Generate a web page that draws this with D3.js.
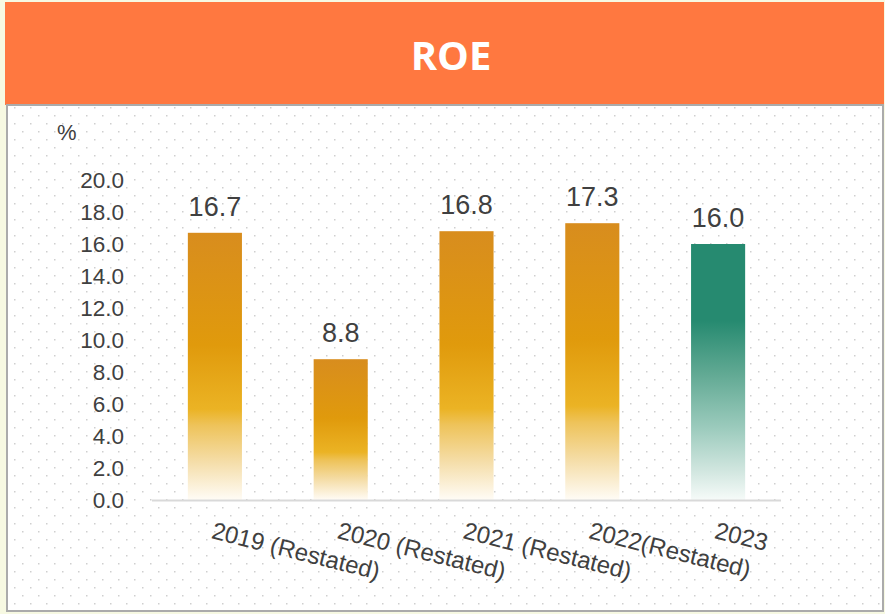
<!DOCTYPE html>
<html>
<head>
<meta charset="utf-8">
<script src="https://cdn.jsdelivr.net/npm/d3@7"></script>
<style>
  body { margin: 0; background: #f7f9e2; }
  svg { display: block; }
</style>
</head>
<body>
<svg id="chart" width="885" height="614"></svg>
<script>
(function () {
  'use strict';

  var title = 'ROE';
  var unit = '%';
  var categories = ['2019 (Restated)', '2020 (Restated)', '2021 (Restated)', '2022(Restated)', '2023'];
  var values = [16.7, 8.8, 16.8, 17.3, 16.0];
  var barKinds = ['gold', 'gold', 'gold', 'gold', 'green'];
  var yTicks = [0, 2, 4, 6, 8, 10, 12, 14, 16, 18, 20];

  var svg = d3.select('#chart');
  var defs = svg.append('defs');

  // dotted paper background
  var pat = defs.append('pattern')
    .attr('id', 'dots')
    .attr('patternUnits', 'userSpaceOnUse')
    .attr('width', 16)
    .attr('height', 16);
  pat.append('rect').attr('x', 14).attr('y', 11).attr('width', 1.5).attr('height', 1.5).attr('fill', '#cfcfcf');
  pat.append('rect').attr('x', 6).attr('y', 3).attr('width', 1.5).attr('height', 1.5).attr('fill', '#cfcfcf');

  // bar gradients
  var gold = defs.append('linearGradient').attr('id', 'grad-gold')
    .attr('x1', 0).attr('y1', 0).attr('x2', 0).attr('y2', 1);
  [[0, '#d88d1e'], [0.42, '#e09a0c'], [0.66, '#ebb324'], [0.72, '#eec35a'], [0.86, '#f5deaa'], [1, '#fffcf6']]
    .forEach(function (s) {
      gold.append('stop').attr('offset', s[0]).attr('stop-color', s[1]);
    });

  var green = defs.append('linearGradient').attr('id', 'grad-green')
    .attr('x1', 0).attr('y1', 0).attr('x2', 0).attr('y2', 1);
  [[0, '#268a70'], [0.3, '#268a70'], [0.5, '#5fa892'], [0.72, '#9ccbbd'], [0.88, '#cfe5de'], [1, '#f6fbf9']]
    .forEach(function (s) {
      green.append('stop').attr('offset', s[0]).attr('stop-color', s[1]);
    });

  // header
  svg.append('rect')
    .attr('x', 5).attr('y', 2).attr('width', 879).attr('height', 103)
    .attr('fill', '#ff7840');
  svg.append('text')
    .attr('x', 451).attr('y', 70)
    .attr('text-anchor', 'middle')
    .attr('font-family', 'Open Sans, sans-serif')
    .attr('font-weight', 'bold')
    .attr('font-size', 40)
    .attr('fill', '#ffffff')
    .text(title);

  // panel
  svg.append('rect')
    .attr('x', 7).attr('y', 105).attr('width', 876).attr('height', 506)
    .attr('fill', '#ffffff');
  svg.append('rect')
    .attr('x', 7).attr('y', 105).attr('width', 876).attr('height', 506)
    .attr('fill', 'url(#dots)')
    .attr('stroke', '#ababab')
    .attr('stroke-width', 2);

  var margin = { left: 152, right: 104, top: 180, bottom: 114 };
  var width = 885 - margin.left - margin.right;
  var height = 614 - margin.top - margin.bottom;

  var g = svg.append('g')
    .attr('transform', 'translate(' + margin.left + ',' + margin.top + ')');

  var x = d3.scaleBand()
    .domain(categories)
    .range([0, width])
    .paddingInner(0.57)
    .paddingOuter(0.285);

  var y = d3.scaleLinear()
    .domain([0, 20])
    .range([height, 0]);

  // y axis
  var yAxis = g.append('g')
    .attr('transform', 'translate(-28,0)')
    .call(d3.axisLeft(y).tickValues(yTicks).tickSize(0).tickPadding(0).tickFormat(d3.format('.1f')));
  yAxis.select('.domain').remove();
  yAxis.selectAll('text')
    .attr('font-family', 'Liberation Sans, Arial, sans-serif')
    .attr('font-size', 22.5)
    .attr('fill', '#404040');

  g.append('text')
    .attr('x', 57 - margin.left).attr('y', 140 - margin.top)
    .attr('font-family', 'Liberation Sans, Arial, sans-serif')
    .attr('font-size', 22)
    .attr('fill', '#404040')
    .text(unit);

  // bars
  g.selectAll('.bar')
    .data(values)
    .enter()
    .append('rect')
    .attr('class', 'bar')
    .attr('x', function (d, i) { return x(categories[i]); })
    .attr('width', x.bandwidth())
    .attr('y', function (d) { return y(d); })
    .attr('height', function (d) { return height - y(d); })
    .attr('fill', function (d, i) { return 'url(#grad-' + barKinds[i] + ')'; });

  // value labels
  g.selectAll('.val')
    .data(values)
    .enter()
    .append('text')
    .attr('class', 'val')
    .attr('x', function (d, i) { return x(categories[i]) + x.bandwidth() / 2; })
    .attr('y', function (d) { return y(d) - 17; })
    .attr('text-anchor', 'middle')
    .attr('font-family', 'Liberation Sans, Arial, sans-serif')
    .attr('font-size', 27)
    .attr('fill', '#404040')
    .text(function (d) { return d3.format('.1f')(d); });

  // x axis line
  g.append('line')
    .attr('x1', 0).attr('x2', width)
    .attr('y1', height + 0.5).attr('y2', height + 0.5)
    .attr('stroke', '#d9d9d9')
    .attr('stroke-width', 2);

  // x labels, tilted
  g.selectAll('.xlab')
    .data(categories)
    .enter()
    .append('text')
    .attr('class', 'xlab')
    .attr('transform', function (d) {
      var cx = x(d) + x.bandwidth() / 2 - 4.5;
      return 'translate(' + cx + ',' + (height + 38) + ') rotate(14)';
    })
    .attr('font-family', 'Liberation Sans, Arial, sans-serif')
    .attr('font-size', 24)
    .attr('fill', '#404040')
    .text(function (d) { return d; });
}());
</script>
</body>
</html>
